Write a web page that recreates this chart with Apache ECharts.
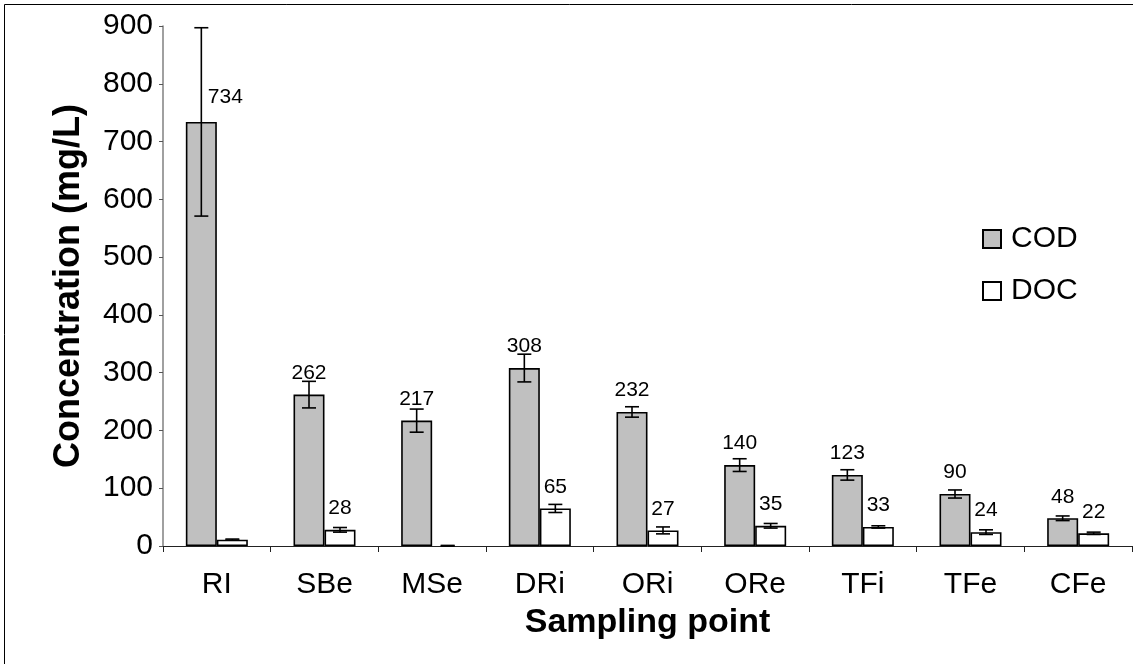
<!DOCTYPE html>
<html>
<head>
<meta charset="utf-8">
<script src="https://cdn.jsdelivr.net/npm/echarts@6/dist/echarts.min.js"></script>
<style>
html,body{margin:0;padding:0;background:#fff;}
#chart{width:1133px;height:664px;}
</style>
</head>
<body>
<div id="chart"></div>
<script>
// ---- data ----
const categories = ['RI', 'SBe', 'MSe', 'DRi', 'ORi', 'ORe', 'TFi', 'TFe', 'CFe'];
const codValues = [734, 262, 217, 308, 232, 140, 123, 90, 48];
const codErrors = [163, 23, 20, 24, 9, 11, 9, 7, 4];
const docValues = [11, 28, 0, 65, 27, 35, 33, 24, 22];
const docErrors = [1, 4, 1, 7, 6, 4, 2, 4, 2];
const docLabelShown = [false, true, false, true, true, true, true, true, true];
const yTicks = [0, 100, 200, 300, 400, 500, 600, 700, 800, 900];

// ---- styling ----
const FONT = 'Liberation Sans, Arial, Helvetica, sans-serif';
const BAR_W = 31;

const chart = echarts.init(document.getElementById('chart'), null, {renderer: 'canvas'});

function errorRenderer(offset) {
  return function (params, api) {
    const xi = api.value(0);
    const v = api.value(1);
    const e = api.value(2);
    const hi = api.coord([xi, v + e]);
    const lo = api.coord([xi, Math.max(0, v - e)]);
    const x = hi[0] + offset;
    const cap = 7;
    const style = {stroke: '#000', lineWidth: 1.6};
    return {
      type: 'group',
      children: [
        {type: 'line', shape: {x1: x, y1: hi[1], x2: x, y2: lo[1]}, style: style},
        {type: 'line', shape: {x1: x - cap, y1: hi[1], x2: x + cap, y2: hi[1]}, style: style},
        {type: 'line', shape: {x1: x - cap, y1: lo[1], x2: x + cap, y2: lo[1]}, style: style}
      ]
    };
  };
}

const codData = codValues.map((v, i) => i === 0
  ? {value: v, label: {offset: [24, -3]}}
  : v);
const docData = docValues.map((v, i) => ({
  value: v,
  label: {show: docLabelShown[i]},
  itemStyle: v === 0 ? {borderWidth: 0} : undefined
}));

const labelStyle = {
  show: true,
  position: 'top',
  distance: 11,
  color: '#000',
  fontSize: 21,
  fontFamily: FONT
};

const option = {
  animation: false,
  backgroundColor: '#fff',
  textStyle: {fontFamily: FONT},
  graphic: [{
    type: 'rect',
    shape: {x: 4.5, y: 4.5, width: 1200, height: 800},
    style: {fill: 'none', stroke: '#000', lineWidth: 1},
    silent: true,
    z: -10
  }],
  grid: {left: 163, right: 1, top: 26, bottom: 118, containLabel: false},
  legend: {
    orient: 'vertical',
    left: 982,
    top: 224,
    padding: 0,
    itemWidth: 18,
    itemHeight: 18,
    itemGap: 22,
    icon: 'rect',
    textStyle: {fontSize: 30, color: '#000', fontFamily: FONT, padding: [0, 0, 0, 5]},
    data: ['COD', 'DOC']
  },
  xAxis: {
    type: 'category',
    data: categories,
    boundaryGap: true,
    name: 'Sampling point',
    nameLocation: 'middle',
    nameGap: 60,
    nameTextStyle: {fontSize: 34, fontWeight: 'bold', color: '#000', fontFamily: FONT},
    axisLine: {lineStyle: {color: '#222', width: 1}},
    axisTick: {show: true, length: 6, lineStyle: {color: '#222', width: 1}},
    axisLabel: {fontSize: 30, color: '#000', margin: 24, fontFamily: FONT, interval: 0},
    splitLine: {show: false}
  },
  yAxis: {
    type: 'value',
    min: yTicks[0],
    max: yTicks[yTicks.length - 1],
    interval: yTicks[1] - yTicks[0],
    name: 'Concentration (mg/L)',
    nameLocation: 'middle',
    nameGap: 76,
    nameTextStyle: {fontSize: 36, fontWeight: 'bold', color: '#000', fontFamily: FONT},
    axisLine: {show: true, lineStyle: {color: '#808080', width: 1.5}},
    axisTick: {show: true, length: 4, lineStyle: {color: '#555', width: 1}},
    axisLabel: {fontSize: 30, color: '#000', margin: 10, fontFamily: FONT},
    splitLine: {show: false}
  },
  series: [
    {
      name: 'COD',
      type: 'bar',
      data: codData,
      barWidth: BAR_W,
      barGap: '0%',
      itemStyle: {color: '#C0C0C0', borderColor: '#000', borderWidth: 1.6},
      label: labelStyle,
      z: 2
    },
    {
      name: 'DOC',
      type: 'bar',
      data: docData,
      barWidth: BAR_W,
      barGap: '0%',
      itemStyle: {color: '#FFFFFF', borderColor: '#000', borderWidth: 1.6},
      label: labelStyle,
      z: 2
    },
    {
      name: 'COD error',
      type: 'custom',
      renderItem: errorRenderer(-BAR_W / 2),
      data: codValues.map((v, i) => [i, v, codErrors[i]]),
      encode: {x: 0, y: 1},
      z: 5,
      silent: true
    },
    {
      name: 'DOC error',
      type: 'custom',
      renderItem: errorRenderer(BAR_W / 2),
      data: docValues.map((v, i) => [i, v, docErrors[i]]),
      encode: {x: 0, y: 1},
      z: 5,
      silent: true
    }
  ]
};

chart.setOption(option);
</script>
</body>
</html>
